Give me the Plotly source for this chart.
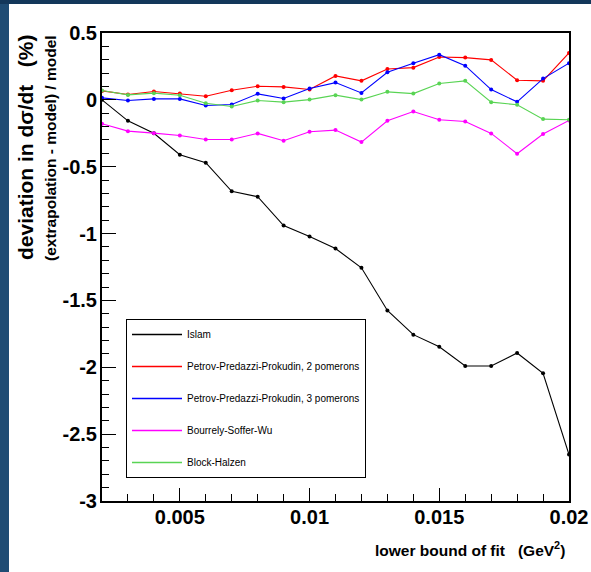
import plotly.graph_objects as go

# ---------------- data ----------------
x_bound = [0.002, 0.003, 0.004, 0.005, 0.006, 0.007, 0.008, 0.009, 0.010, 0.011,
           0.012, 0.013, 0.014, 0.015, 0.016, 0.017, 0.018, 0.019, 0.020]

islam = [0.00, -0.157, -0.25, -0.41, -0.47, -0.684, -0.724, -0.94, -1.022, -1.112,
         -1.256, -1.575, -1.756, -1.846, -1.99, -1.99, -1.893, -2.045, -2.652]
ppp2 = [0.067, 0.04, 0.062, 0.047, 0.027, 0.072, 0.102, 0.097, 0.077, 0.179,
        0.142, 0.231, 0.241, 0.321, 0.316, 0.299, 0.147, 0.142, 0.351]
ppp3 = [0.015, -0.005, 0.007, 0.007, -0.042, -0.035, 0.045, 0.01, 0.085, 0.129,
        0.052, 0.206, 0.274, 0.338, 0.256, 0.077, -0.015, 0.159, 0.274]
bsw = [-0.179, -0.234, -0.249, -0.266, -0.296, -0.296, -0.251, -0.306, -0.239, -0.226,
       -0.316, -0.157, -0.087, -0.149, -0.162, -0.251, -0.403, -0.256, -0.154]
block_halzen = [0.07, 0.037, 0.05, 0.035, -0.025, -0.05, -0.005, -0.017, 0.002, 0.035,
                0.002, 0.06, 0.047, 0.122, 0.142, -0.017, -0.037, -0.144, -0.149]

series_names = ["Islam",
                "Petrov-Predazzi-Prokudin, 2 pomerons",
                "Petrov-Predazzi-Prokudin, 3 pomerons",
                "Bourrely-Soffer-Wu",
                "Block-Halzen"]
series_values = [islam, ppp2, ppp3, bsw, block_halzen]
series_colors = ["#000000", "#ff0000", "#0000ff", "#ff00ff", "#59d454"]

y_tickvals = [0.5, 0, -0.5, -1, -1.5, -2, -2.5, -3]
y_ticktext = ["0.5", "0", "-0.5", "-1", "-1.5", "-2", "-2.5", "-3"]
x_tickvals = [0.005, 0.01, 0.015, 0.02]
x_ticktext = ["0.005", "0.01", "0.015", "0.02"]

# ---------------- layout geometry ----------------
W, H = 591, 572
ML, MR, MT, MB = 102, 22, 33, 71
PW, PH = W - ML - MR, H - MT - MB


def px(x):
    return (x - ML) / PW


def py(y):
    return (H - MB - y) / PH


FONT = "Liberation Sans, Arial, Helvetica, sans-serif"
BG_BLUE = "#1f4c74"

fig = go.Figure()

for name, vals, col in zip(series_names, series_values, series_colors):
    fig.add_trace(go.Scatter(
        x=x_bound, y=vals, mode="lines+markers", name=name,
        line=dict(color=col, width=1.1),
        marker=dict(color=col, size=4),
        showlegend=False,
    ))

# legend entries (line only, as in the original)
for i, (name, col) in enumerate(zip(series_names, series_colors)):
    fig.add_trace(go.Scatter(
        x=[None], y=[None], mode="lines", name=name,
        line=dict(color=col, width=1.5),
        legendgroup="g%d" % i, showlegend=True,
    ))

fig.update_layout(
    template="none",
    width=W, height=H,
    margin=dict(l=ML, r=MR, t=MT, b=MB, pad=0),
    paper_bgcolor="white",
    plot_bgcolor="white",
    font=dict(family=FONT, color="black"),
    showlegend=True,
    legend=dict(
        x=px(126), y=py(319), xanchor="left", yanchor="top",
        bgcolor="white", bordercolor="black", borderwidth=1,
        font=dict(family=FONT, size=10, color="black"),
        tracegroupgap=13,
        itemwidth=50,
    ),
    shapes=[
        # dark blue frame around the white canvas (left and top strips)
        dict(type="rect", xref="paper", yref="paper",
             x0=px(-20), x1=px(9), y0=py(H + 20), y1=py(-20),
             fillcolor=BG_BLUE, line=dict(width=0), layer="below"),
        dict(type="rect", xref="paper", yref="paper",
             x0=px(-20), x1=px(W + 20), y0=py(4), y1=py(-20),
             fillcolor="#13375a", line=dict(width=0), layer="below"),
    ],
)

fig.update_xaxes(
    range=[0.002, 0.02], automargin=False,
    showgrid=False, zeroline=False,
    showline=True, linecolor="black", linewidth=2, mirror=True,
    ticks="inside", ticklen=13, tickwidth=1, tickcolor="black",
    tickvals=x_tickvals, ticktext=x_ticktext,
    tickfont=dict(family=FONT, size=20, weight="bold", color="black"),
    ticklabelstandoff=-3,
    minor=dict(ticks="inside", ticklen=7, tickwidth=1, tickcolor="black",
               dtick=0.001, tick0=0.002, showgrid=False),
)
fig.update_yaxes(
    range=[-3, 0.5], automargin=False,
    showgrid=False, zeroline=False,
    showline=True, linecolor="black", linewidth=2, mirror=True,
    ticks="inside", ticklen=14, tickwidth=1, tickcolor="black",
    tickvals=y_tickvals, ticktext=y_ticktext,
    tickfont=dict(family=FONT, size=20, weight="bold", color="black"),
    ticklabelstandoff=-1,
    minor=dict(ticks="inside", ticklen=7, tickwidth=1, tickcolor="black",
               dtick=0.1, tick0=0, showgrid=False),
)

# axis titles
fig.add_annotation(
    text="deviation in d\u03c3/dt   (%)", textangle=-90,
    xref="paper", yref="paper", x=px(25), y=py(32),
    xanchor="center", yanchor="top", showarrow=False,
    font=dict(family=FONT, size=21, weight="bold", color="black"),
)
fig.add_annotation(
    text="(extrapolation - model) / model", textangle=-90,
    xref="paper", yref="paper", x=px(50), y=py(33),
    xanchor="center", yanchor="top", showarrow=False,
    font=dict(family=FONT, size=15.5, weight="bold", color="black"),
)
fig.add_annotation(
    text="lower bound of fit   (GeV<sup>2</sup>)",
    xref="paper", yref="paper", x=px(567), y=py(549),
    xanchor="right", yanchor="middle", showarrow=False,
    font=dict(family=FONT, size=15.5, weight="bold", color="black"),
)

fig.write_html("out.html")
